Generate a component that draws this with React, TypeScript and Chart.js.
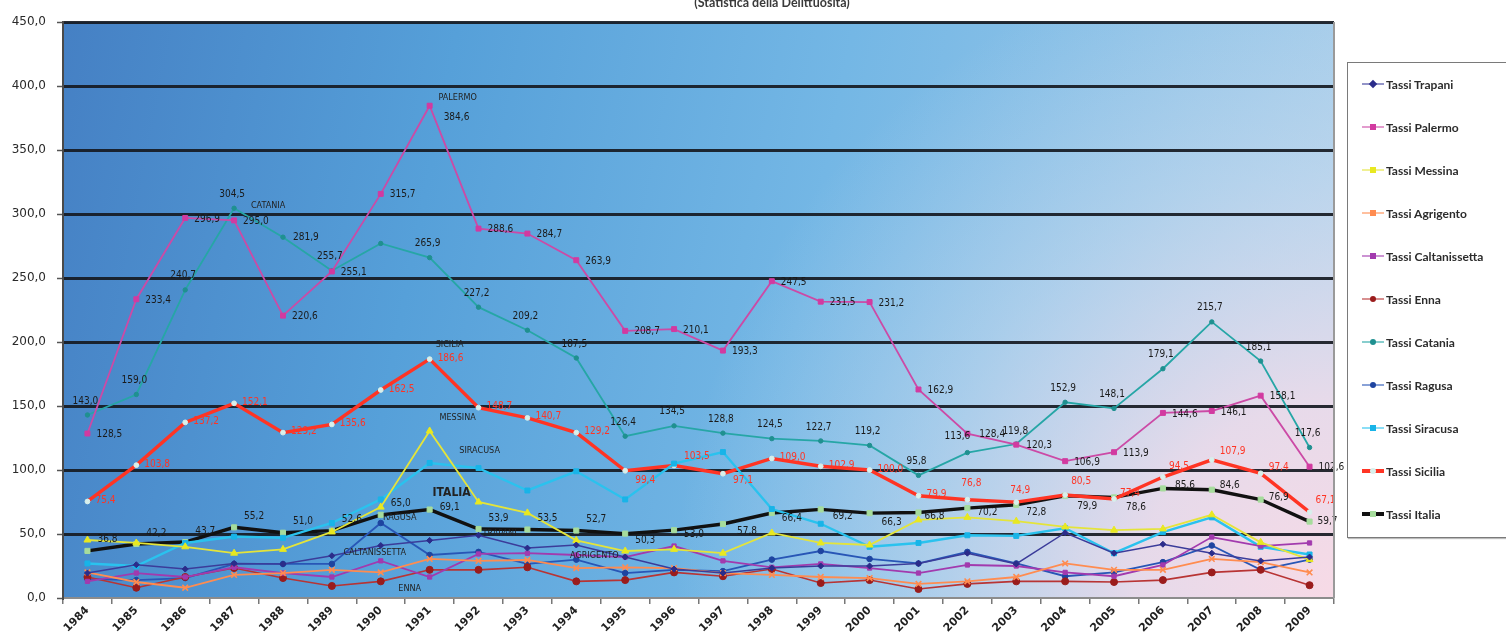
import React, { useEffect, useRef } from "react";
import { Chart, registerables } from "chart.js";

Chart.register(...registerables);

const YEARS = ["1984","1985","1986","1987","1988","1989","1990","1991","1992","1993","1994","1995","1996","1997","1998","1999","2000","2001","2002","2003","2004","2005","2006","2007","2008","2009"];
const Y_TICKS = [0, 50, 100, 150, 200, 250, 300, 350, 400, 450];

const TRAPANI = [19.5, 26, 22.6, 27, 26.5, 33, 41, 45, 49, 39, 41.4, 32, 22.6, 19.5, 23.4, 25, 25, 27, 35, 26.6, 51, 35, 42, 35, 29, 32];
const PALERMO = [128.5, 233.4, 296.9, 295.0, 220.6, 255.1, 315.7, 384.6, 288.6, 284.7, 263.9, 208.7, 210.1, 193.3, 247.5, 231.5, 231.2, 162.9, 128.4, 119.8, 106.9, 113.9, 144.6, 146.1, 158.1, 102.6];
const MESSINA = [45.3, 43, 40, 35, 38, 51.6, 71, 130.5, 75, 66.5, 45, 36.7, 38, 35, 50.8, 43, 41.4, 61, 63, 60, 55.5, 53, 54, 65, 43.5, 30];
const AGRIGENTO = [20, 12.5, 8, 18, 19.5, 22, 20, 30.5, 29, 29.7, 23.4, 24, 23.4, 19.5, 18, 16.4, 15.6, 11, 13, 16.4, 27, 22, 22, 30.5, 28, 20];
const CALTANISSETTA = [13, 19.5, 16.4, 24, 19.5, 16.4, 29, 16.4, 34.4, 35, 33.6, 32, 40.6, 29, 24, 26.6, 23.4, 19.5, 25.8, 25, 20, 17, 25.8, 47.6, 40.6, 43];
const ENNA = [16.4, 8, 16.4, 23.4, 15.6, 9.4, 13, 22, 22, 24, 13, 14, 20, 17, 22.6, 11.7, 14, 7, 11, 13, 13, 12.5, 14, 20, 22, 10];
const CATANIA = [143.0, 159.0, 240.7, 304.5, 281.9, 255.7, 277.0, 265.9, 227.2, 209.2, 187.5, 126.4, 134.5, 128.8, 124.5, 122.7, 119.2, 95.8, 113.6, 120.3, 152.9, 148.1, 179.1, 215.7, 185.1, 117.6];
const RAGUSA = [15, 14, 15.6, 26.6, 26.6, 26.6, 58.6, 33.6, 36, 26.6, 30, 19.5, 22, 21, 30, 36.7, 30.5, 27, 36, 27, 17, 20, 28, 41, 22, 30];
const SIRACUSA = [27, 25, 43, 48, 47, 58.6, 77, 105.5, 101.5, 84, 99, 77, 105, 114, 69.5, 58, 40, 43, 49, 48.5, 54.5, 35, 51.5, 63, 40, 34];
const SICILIA = [75.4, 103.8, 137.2, 152.1, 129.2, 135.6, 162.5, 186.6, 148.7, 140.7, 129.2, 99.4, 103.5, 97.1, 109.0, 102.9, 100.0, 79.9, 76.8, 74.9, 80.5, 77.4, 94.5, 107.9, 97.4, 67.1];
const ITALIA = [36.8, 42.2, 43.7, 55.2, 51.0, 52.6, 65.0, 69.1, 53.9, 53.5, 52.7, 50.3, 53.0, 57.8, 66.4, 69.2, 66.3, 66.8, 70.2, 72.8, 79.9, 78.6, 85.6, 84.6, 76.9, 59.7];

const TITLE = "(Statistica della Delittuosità)";

type SeriesStyle = {
  label: string;
  data: number[];
  color: string;
  point: string;
  pointBg: string;
  radius: number;
  width: number;
};

const SERIES: SeriesStyle[] = [
  { label: "Tassi Trapani", data: TRAPANI, color: "#3b3c9a", point: "rectRot", pointBg: "#2b2c8a", radius: 3, width: 1.5 },
  { label: "Tassi Palermo", data: PALERMO, color: "#cc4aa6", point: "rect", pointBg: "#d23aa0", radius: 3.5, width: 1.8 },
  { label: "Tassi Messina", data: MESSINA, color: "#e4e43a", point: "triangle", pointBg: "#e8e820", radius: 4, width: 1.8 },
  { label: "Tassi Agrigento", data: AGRIGENTO, color: "#ff8c50", point: "crossRot", pointBg: "#ff8c50", radius: 4, width: 1.8 },
  { label: "Tassi Caltanissetta", data: CALTANISSETTA, color: "#a23aae", point: "rect", pointBg: "#a23aae", radius: 3, width: 1.8 },
  { label: "Tassi Enna", data: ENNA, color: "#b83434", point: "circle", pointBg: "#9a1c1c", radius: 3.5, width: 1.6 },
  { label: "Tassi Catania", data: CATANIA, color: "#26a6a6", point: "circle", pointBg: "#1f9090", radius: 2.2, width: 1.8 },
  { label: "Tassi Ragusa", data: RAGUSA, color: "#2856b6", point: "circle", pointBg: "#1e44a0", radius: 2.8, width: 1.8 },
  { label: "Tassi Siracusa", data: SIRACUSA, color: "#2ac2ee", point: "rect", pointBg: "#18b4e8", radius: 3.5, width: 2.4 },
  { label: "Tassi Sicilia", data: SICILIA, color: "#ff3424", point: "circle", pointBg: "#d8f0ec", radius: 2.4, width: 3.4 },
  { label: "Tassi Italia", data: ITALIA, color: "#111111", point: "rect", pointBg: "#a6dc9c", radius: 3.6, width: 3.4 },
];

const fmt = (v: number) => v.toFixed(1).replace(".", ",");

// value label layout (styles, not data)
const VALUE_LABELS: Record<string, any> = {
  "Tassi Palermo": { color: "#1a1a1a", dx: 9, dy: 1, align: "left", skip: [], over: { 7: [14, 12], 18: [12, 1], 19: [-1, -13, "center"] } },
  "Tassi Catania": { color: "#1a1a1a", dx: -2, dy: -14, align: "center", skip: [6], over: { 4: [10, 0, "left"], 18: [-10, -16], 19: [10, 1, "left"] } },
  "Tassi Sicilia": { color: "#ff3424", dx: 8, dy: -1, align: "left", skip: [], over: { 11: [10, 10], 13: [10, 7], 12: [10, -9], 22: [6, -11], 23: [8, -8], 24: [8, -6], 25: [6, -12], 18: [-6, -16], 19: [-6, -12], 20: [6, -14], 21: [6, -6] } },
  "Tassi Italia": { color: "#1a1a1a", dx: 10, dy: -11, align: "left", skip: [], over: { 7: [10, -2], 11: [10, 7], 12: [10, 4], 13: [14, 7], 14: [10, 5], 15: [12, 7], 16: [12, 9], 17: [6, 4], 18: [10, 4], 19: [10, 8], 20: [12, 11], 21: [12, 10], 22: [12, -3], 23: [8, -4], 24: [8, -2], 25: [8, 0] } },
};

const NAME_LABELS = [
  { text: "PALERMO", series: "Tassi Palermo", index: 7, dx: 28, dy: -8, size: 9, bold: false },
  { text: "CATANIA", series: "Tassi Catania", index: 3, dx: 34, dy: -3, size: 9, bold: false },
  { text: "SICILIA", series: "Tassi Sicilia", index: 7, dx: 20, dy: -14, size: 9, bold: false },
  { text: "MESSINA", series: "Tassi Messina", index: 7, dx: 28, dy: -13, size: 9, bold: false },
  { text: "SIRACUSA", series: "Tassi Siracusa", index: 7, dx: 50, dy: -12, size: 9, bold: false },
  { text: "ITALIA", series: "Tassi Italia", index: 7, dx: 22, dy: -17, size: 12, bold: true },
  { text: "RAGUSA", series: "Tassi Ragusa", index: 6, dx: 19, dy: -5, size: 9, bold: false },
  { text: "TRAPANI", series: "Tassi Trapani", index: 8, dx: 21, dy: -2, size: 9, bold: false },
  { text: "CALTANISSETTA", series: "Tassi Caltanissetta", index: 6, dx: -6, dy: -8, size: 9, bold: false },
  { text: "AGRIGENTO", series: "Tassi Agrigento", index: 10, dx: 18, dy: -12, size: 9, bold: false },
  { text: "ENNA", series: "Tassi Enna", index: 6, dx: 29, dy: 7, size: 9, bold: false },
];

const LABEL_FONT = "'DejaVu Sans Condensed', 'DejaVu Sans', sans-serif";

const bgPlugin = {
  id: "bgPlugin",
  beforeDraw(chart: any) {
    const { ctx, chartArea: a } = chart;
    const w = a.right - a.left;
    const h = a.bottom - a.top;
    ctx.save();
    ctx.fillStyle = "#ffffff";
    ctx.fillRect(0, 0, chart.width, chart.height);
    const g = ctx.createLinearGradient(a.left, a.top, a.right, a.top + 250);
    g.addColorStop(0, "#4580c4");
    g.addColorStop(0.3, "#56a0d9");
    g.addColorStop(0.6, "#74b7e5");
    g.addColorStop(1, "#a6cdea");
    ctx.fillStyle = g;
    ctx.fillRect(a.left, a.top, w, h);
    const r = ctx.createRadialGradient(a.right, a.bottom, 0, a.right, a.bottom, 660);
    r.addColorStop(0, "rgba(247,218,230,1)");
    r.addColorStop(0.3, "rgba(240,220,234,0.88)");
    r.addColorStop(0.65, "rgba(215,224,240,0.42)");
    r.addColorStop(1, "rgba(200,220,240,0)");
    ctx.fillStyle = r;
    ctx.fillRect(a.left, a.top, w, h);
    ctx.restore();
  },
  afterDraw(chart: any) {
    const { ctx, chartArea: a } = chart;
    ctx.save();
    ctx.strokeStyle = "#9a9a9a";
    ctx.lineWidth = 2;
    ctx.beginPath();
    ctx.moveTo(a.right, a.top);
    ctx.lineTo(a.right, a.bottom);
    ctx.stroke();
    ctx.restore();
  },
};

const labelPlugin = {
  id: "labelPlugin",
  afterDatasetsDraw(chart: any) {
    const { ctx } = chart;
    ctx.save();
    ctx.textBaseline = "middle";
    chart.data.datasets.forEach((ds: any, di: number) => {
      const cfg = VALUE_LABELS[ds.label];
      if (!cfg) return;
      const meta = chart.getDatasetMeta(di);
      ctx.font = `10px ${LABEL_FONT}`;
      ctx.fillStyle = cfg.color;
      ds.data.forEach((v: number, i: number) => {
        if (cfg.skip.includes(i)) return;
        const el = meta.data[i];
        const o = cfg.over[i];
        const dx = o ? o[0] : cfg.dx;
        const dy = o ? o[1] : cfg.dy;
        ctx.textAlign = o && o[2] ? o[2] : cfg.align;
        ctx.fillText(fmt(v), el.x + dx, el.y + dy);
      });
    });
    NAME_LABELS.forEach((n) => {
      const di = chart.data.datasets.findIndex((d: any) => d.label === n.series);
      const el = chart.getDatasetMeta(di).data[n.index];
      ctx.font = `${n.bold ? "bold " : ""}${n.size}px ${LABEL_FONT}`;
      ctx.fillStyle = "#222222";
      ctx.textAlign = "center";
      ctx.fillText(n.text, el.x + n.dx, el.y + n.dy);
    });
    ctx.restore();
  },
};

function LegendMark({ s }: { s: SeriesStyle }) {
  const dashed = s.label === "Tassi Sicilia" || s.label === "Tassi Italia";
  return (
    <div style={{ position: "relative", width: 22, height: 10, marginRight: 2 }}>
      <div style={{ position: "absolute", left: 0, top: 5 - s.width / 2, width: 22, height: Math.max(2, s.width), background: s.color, opacity: dashed ? 1 : 0.55 }} />
      <div
        style={{
          position: "absolute",
          left: 11 - 3,
          top: 2,
          width: 6,
          height: 6,
          background: s.pointBg,
          borderRadius: s.point === "circle" ? 3 : 0,
          transform: s.point === "rectRot" ? "rotate(45deg)" : undefined,
        }}
      />
    </div>
  );
}

export default function App() {
  const ref = useRef<HTMLCanvasElement | null>(null);

  useEffect(() => {
    if (!ref.current) return;
    const chart = new Chart(ref.current, {
      type: "line",
      data: {
        labels: YEARS,
        datasets: SERIES.map((s) => ({
          label: s.label,
          data: s.data,
          borderColor: s.color,
          backgroundColor: s.pointBg,
          borderWidth: s.width,
          pointStyle: s.point as any,
          pointRadius: s.radius,
          pointBackgroundColor: s.pointBg,
          pointBorderColor: s.point === "crossRot" ? s.color : s.pointBg,
          pointBorderWidth: s.point === "crossRot" ? 1.6 : 1,
          tension: 0,
          fill: false,
        })),
      },
      options: {
        animation: false,
        responsive: false,
        maintainAspectRatio: false,
        layout: { padding: { left: 0, right: 172, top: 22, bottom: 0 } },
        plugins: {
          legend: { display: false },
          tooltip: { enabled: false },
          title: { display: false },
        },
        scales: {
          x: {
            type: "category",
            offset: true,
            grid: {
              display: true,
              drawOnChartArea: false,
              drawTicks: true,
              tickLength: 6,
              color: "#777777",
              lineWidth: 1.5,
              offset: true,
            },
            border: { display: true, color: "#8c8c8c", width: 2 },
            ticks: {
              autoSkip: false,
              maxRotation: 45,
              minRotation: 45,
              padding: 0,
              color: "#1f1f1f",
              font: { family: "'DejaVu Sans', sans-serif", size: 11, weight: "bold" },
            },
            afterFit: (s: any) => {
              s.height = 41;
            },
          } as any,
          y: {
            min: 0,
            max: 450,
            afterBuildTicks: (s: any) => {
              s.ticks = Y_TICKS.map((v) => ({ value: v }));
            },
            ticks: {
              callback: (v: any) => fmt(Number(v)),
              color: "#2a2a2a",
              padding: 11,
              font: { family: "'DejaVu Sans', sans-serif", size: 12 },
            },
            grid: {
              color: (c: any) => (c.tick && c.tick.value === 0 ? "rgba(0,0,0,0)" : "rgba(22,26,34,0.92)"),
              lineWidth: 3,
              drawTicks: true,
              tickLength: 6,
              tickColor: "#555555",
              tickWidth: 1.5,
            },
            border: { display: true, color: "#4a4a4a", width: 2 },
            afterFit: (s: any) => {
              s.width = 63;
            },
          } as any,
        },
      },
      plugins: [bgPlugin, labelPlugin],
    });
    return () => chart.destroy();
  }, []);

  return (
    <div style={{ position: "absolute", left: 0, top: 0, width: 1506, height: 639, background: "#fff", overflow: "hidden" }}>
      <canvas ref={ref} width={1506} height={639} style={{ position: "absolute", left: 0, top: 0, width: 1506, height: 639 }} />
      <div
        style={{
          position: "absolute",
          left: 672,
          top: -5,
          width: 200,
          textAlign: "center",
          fontFamily: "Lato, sans-serif",
          fontWeight: "bold",
          fontSize: 12.5,
          color: "#3a3a3a",
          whiteSpace: "nowrap",
        }}
      >
        {TITLE}
      </div>
      <div
        style={{
          position: "absolute",
          left: 1347,
          top: 62,
          width: 175,
          height: 474,
          border: "1.5px solid #7a7a7a",
          background: "#ffffff",
          boxShadow: "1px 1px 1px #bbbbbb",
        }}
      >
        {SERIES.map((s, i) => (
          <div
            key={s.label}
            style={{
              position: "absolute",
              left: 14,
              top: 13 + i * 43,
              height: 16,
              display: "flex",
              alignItems: "center",
              fontFamily: "Lato, sans-serif",
              fontWeight: "bold",
              fontSize: 12,
              color: "#2c2c2c",
              whiteSpace: "nowrap",
            }}
          >
            <LegendMark s={s} />
            <span>{s.label}</span>
          </div>
        ))}
      </div>
    </div>
  );
}
